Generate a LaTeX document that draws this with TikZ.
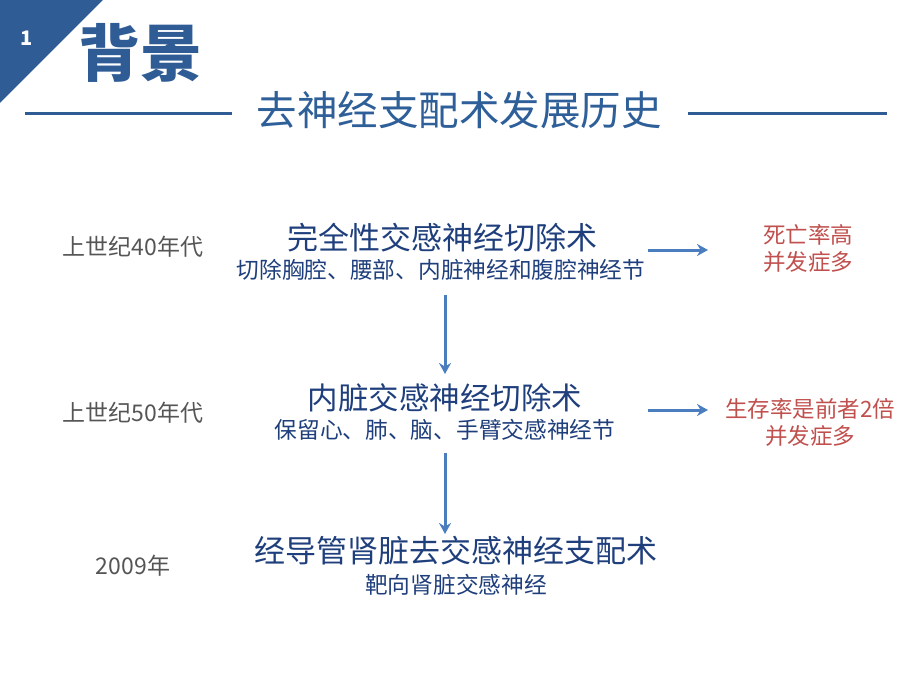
\documentclass[tikz,border=0pt]{standalone}
\usepackage{fontspec}
\setmainfont{Noto Sans CJK SC}
\usetikzlibrary{arrows.meta}
\definecolor{hdrblue}{HTML}{2F5C95}
\definecolor{titleblue}{HTML}{2E5F99}
\definecolor{navy}{HTML}{1F3F7C}
\definecolor{graytxt}{HTML}{555555}
\definecolor{redtxt}{HTML}{C0504D}
\definecolor{arrblue}{HTML}{4A7EBE}
\tikzset{
  fs/.style={font=\fontsize{#1}{#1}\selectfont},
  lbl/.style={inner sep=0pt, text=graytxt, fs=23},
  mainT/.style={inner sep=0pt, text=navy, fs=31},
  subT/.style={inner sep=0pt, text=navy, fs=22.7},
  redT/.style={inner sep=0pt, text=redtxt, align=center, font=\fontsize{22.5}{27}\selectfont},
  arr/.style={draw=arrblue, line width=3pt, -{Stealth[length=11pt,width=12pt]}},
  rule/.style={draw=hdrblue, line width=3pt}
}
\begin{document}
\begin{tikzpicture}[x=1pt,y=-1pt]
\useasboundingbox (0,0) rectangle (920,690);
\fill[hdrblue] (0,0) -- (103,0) -- (0,103) -- cycle;
\node[white, inner sep=0pt, font=\bfseries\fontsize{20}{20}\selectfont] (num) at (27,38) {1};
\node[hdrblue, inner sep=0pt, font=\bfseries\fontsize{62}{62}\selectfont] (bg) at (140,53) {背景};
\node[titleblue, inner sep=0pt, fs=40.5] (title) at (459,110) {去神经支配术发展历史};
\coordinate (l1) at (25,114); \coordinate (l2) at (232,114);
\coordinate (r1) at (688,114); \coordinate (r2) at (887,114);
\draw[rule] (l1) -- (l2);
\draw[rule] (r1) -- (r2);

\node[lbl] (y40) at (133,247) {上世纪40年代};
\node[lbl] (y50) at (133,413) {上世纪50年代};
\node[lbl] (y09) at (133,566) {2009年};

\node[mainT] (m1) at (442,238) {完全性交感神经切除术};
\node[subT] (s1) at (441,270) {切除胸腔、腰部、内脏神经和腹腔神经节};
\node[mainT, fs=30.5] (m2) at (445,398) {内脏交感神经切除术};
\node[subT] (s2) at (445,430) {保留心、肺、脑、手臂交感神经节};
\node[mainT] (m3) at (456,551) {经导管肾脏去交感神经支配术};
\node[subT] (s3) at (456,585) {靶向肾脏交感神经};

\node[redT] (o1) at (808,248) {死亡率高\\并发症多};
\node[redT] (o2) at (810,422) {生存率是前者2倍\\并发症多};

\coordinate (v1a) at (445,295); \coordinate (v1b) at (445,374);
\coordinate (v2a) at (445,453); \coordinate (v2b) at (445,534);
\draw[arr] (v1a) -- (v1b);
\draw[arr] (v2a) -- (v2b);
\coordinate (h1a) at (648,250); \coordinate (h1b) at (708,250);
\coordinate (h2a) at (648,410); \coordinate (h2b) at (708,410);
\draw[arr] (h1a) -- (h1b);
\draw[arr] (h2a) -- (h2b);
\end{tikzpicture}
\end{document}
